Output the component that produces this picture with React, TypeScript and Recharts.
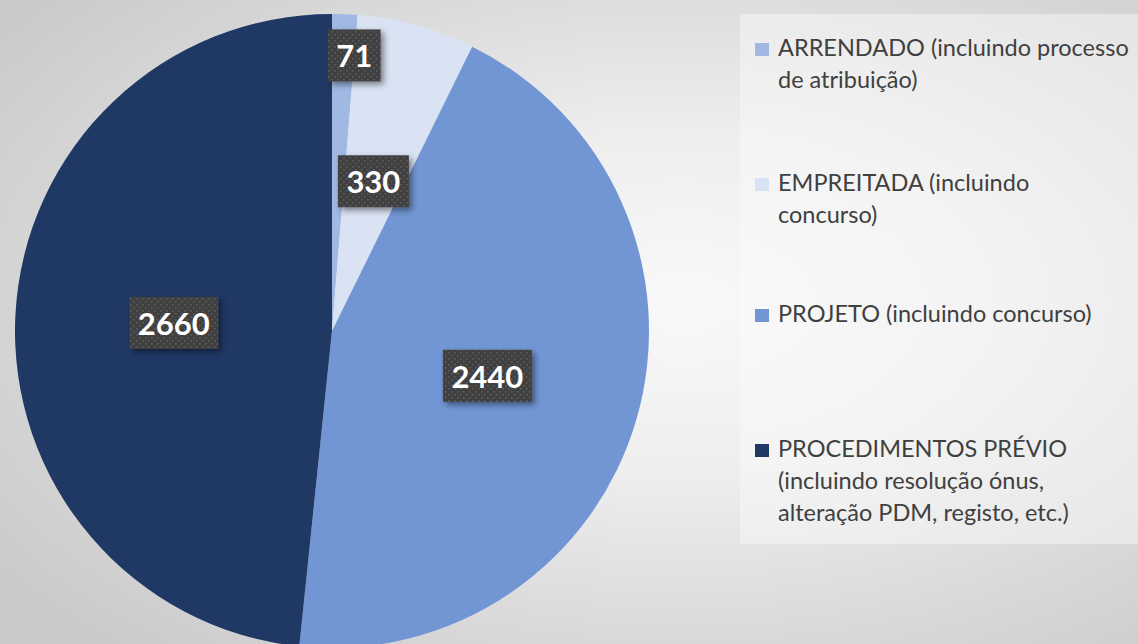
import React from "react";
import { Cell, Legend, Pie, PieChart } from "recharts";

// legend labels (line breaks as in the original legend)
const categories = [
  "ARRENDADO (incluindo processo\nde atribuição)",
  "EMPREITADA (incluindo\nconcurso)",
  "PROJETO (incluindo concurso)",
  "PROCEDIMENTOS PRÉVIO\n(incluindo resolução ónus,\nalteração PDM, registo, etc.)",
];
const values = [71, 330, 2440, 2660];
const COLORS = ["#a0b8e2", "#dae3f3", "#7296d4", "#1f3864"];

// label placement (fraction of radius) and legend row offsets
const labelRadius = [0.87, 0.49, 0.51, 0.5];
const labelShiftX = [11, 0, 0, 0];
const legendTop = [17, 152, 283, 418];

const RADIAN = Math.PI / 180;

const chartData = categories.map((name, i) => ({ name, value: values[i] }));

const renderLabel = (props: any) => {
  const { cx, cy, midAngle, outerRadius, index, value } = props;
  const r = outerRadius * labelRadius[index];
  const x = cx + r * Math.cos(-midAngle * RADIAN) + labelShiftX[index];
  const y = cy + r * Math.sin(-midAngle * RADIAN);
  const w = String(value).length * 18 + 17;
  const h = 52;
  return (
    <g>
      <rect
        x={x - w / 2}
        y={y - h / 2}
        width={w}
        height={h}
        fill="url(#labelDots)"
        filter="url(#labelShadow)"
      />
      <text
        x={x}
        y={y}
        fill="#ffffff"
        textAnchor="middle"
        dominantBaseline="central"
        fontFamily="Lato, 'Open Sans', sans-serif"
        fontWeight={700}
        fontSize={31}
      >
        {value}
      </text>
    </g>
  );
};

const renderLegend = () => (
  <div
    style={{
      position: "relative",
      width: 398,
      height: 530,
      background: "rgba(250,250,250,0.45)",
      fontFamily: "Lato, 'Open Sans', sans-serif",
      fontSize: 23.5,
      color: "#404040",
    }}
  >
    {categories.map((c, i) => (
      <div
        key={c}
        style={{ position: "absolute", left: 15, top: legendTop[i], display: "flex" }}
      >
        <span
          style={{
            display: "inline-block",
            flex: "none",
            width: 14,
            height: 13,
            background: COLORS[i],
            marginTop: 12,
            marginRight: 9,
          }}
        />
        <span style={{ whiteSpace: "pre-line", lineHeight: "32px" }}>{c}</span>
      </div>
    ))}
  </div>
);

const App = () => {
  return (
    <div
      style={{
        position: "absolute",
        left: 0,
        top: 0,
        width: 1138,
        height: 644,
        overflow: "hidden",
        background:
          "radial-gradient(ellipse 75% 75% at 60% 47%, #f9f9f9 0%, #eeeeee 35%, #d9d9d9 70%, #c9c9c9 100%)",
      }}
    >
      <svg width={0} height={0} style={{ position: "absolute" }}>
        <defs>
          <pattern id="labelDots" width={6} height={6} patternUnits="userSpaceOnUse">
            <rect width={6} height={6} fill="#404040" />
            <rect x={1} y={1} width={1.6} height={1.6} fill="#5c5c5c" />
            <rect x={4} y={4} width={1.6} height={1.6} fill="#5c5c5c" />
          </pattern>
          <filter id="labelShadow" x="-30%" y="-30%" width="170%" height="170%">
            <feDropShadow dx={3} dy={3} stdDeviation={3} floodColor="#000" floodOpacity={0.45} />
          </filter>
        </defs>
      </svg>
      <PieChart width={1138} height={644} margin={{ top: 0, right: 0, bottom: 0, left: 0 }}>
        <Pie
          dataKey="value"
          data={chartData}
          cx={332}
          cy={331}
          outerRadius={317}
          startAngle={90}
          endAngle={-270}
          stroke="none"
          isAnimationActive={false}
          labelLine={false}
          label={renderLabel}
        >
          {chartData.map((entry, index) => (
            <Cell key={`cell-${index}`} fill={COLORS[index % COLORS.length]} />
          ))}
        </Pie>
        <Legend
          content={renderLegend}
          wrapperStyle={{ left: 740, top: 14, width: 398, height: 530, bottom: "auto", right: "auto" }}
        />
      </PieChart>
    </div>
  );
};

export default App;
